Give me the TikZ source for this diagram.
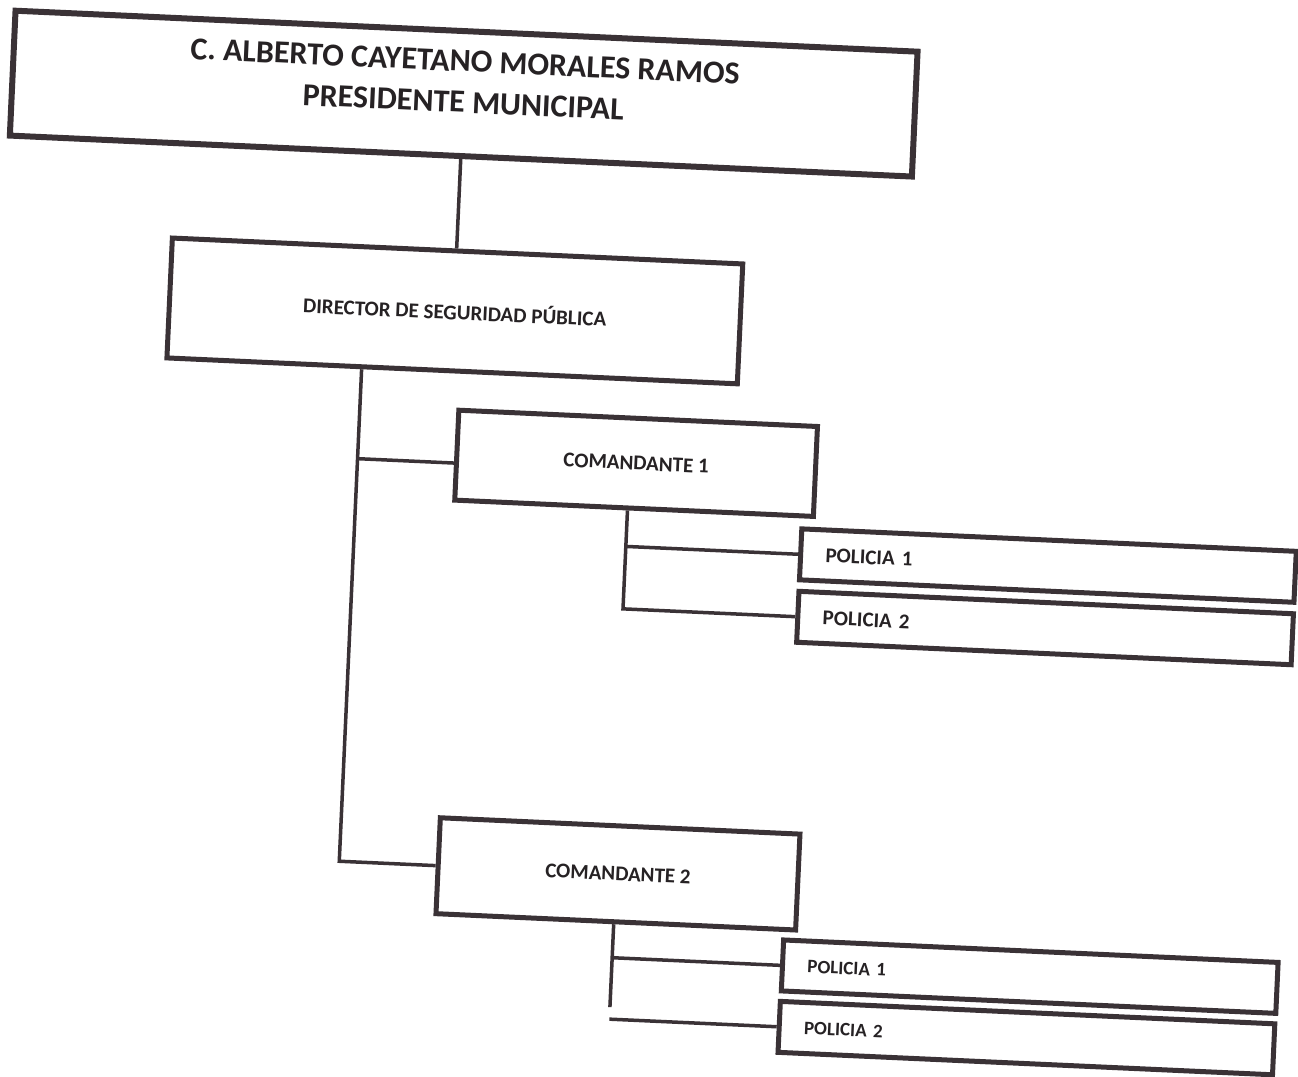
\documentclass[tikz,border=0pt]{standalone}
\usepackage{fontspec}
\setmainfont{Carlito}
\definecolor{ink}{RGB}{58,50,54}
\definecolor{txt}{RGB}{38,34,36}
\begin{document}
\begin{tikzpicture}[x=1pt,y=1pt,
  box/.style={draw=ink, line width=5pt, inner sep=0pt, text=txt},
  big/.style={box, line width=6pt, align=center, font=\bfseries\fontsize{32}{41}\selectfont},
  mid/.style={box, font=\bfseries\fontsize{21}{25}\selectfont},
  pol/.style={box, text width=445pt, inner xsep=25pt, minimum height=51pt, align=left, font=\bfseries\fontsize{21}{25}\selectfont},
  polsmall/.style={pol, font=\bfseries\fontsize{19}{23}\selectfont},
  conn/.style={draw=ink, line width=3.5pt}]
\useasboundingbox (0,0) rectangle (1298,-1076);
\fill[white] (0,0) rectangle (1298,-1076);
\begin{scope}[transform canvas={rotate=-2.6}]
\node[big, minimum width=903pt, minimum height=125pt, text depth=24pt] (top) at (467.5,-72.5) {C. ALBERTO CAYETANO MORALES RAMOS\\PRESIDENTE MUNICIPAL};
\node[mid, minimum width=571pt, minimum height=120pt] (dir) at (468.5,-290) {DIRECTOR DE SEGURIDAD PÚBLICA};
\node[mid, minimum width=359pt, minimum height=90pt] (c1) at (656.5,-434) {COMANDANTE 1};
\node[pol] (p1) at (1072.5,-517.5) {POLICIA 1};
\node[pol] (p2) at (1072.5,-580) {POLICIA 2};
\node[mid, minimum width=360pt, minimum height=96pt] (c2) at (657,-845) {COMANDANTE 2};
\node[polsmall] (p3) at (1073,-929) {POLICIA 1};
\node[polsmall] (p4) at (1072.5,-990.5) {POLICIA 2};
\coordinate (t1) at (378,0);
\coordinate (s1) at (650,0);
\coordinate (s2) at (655,0);
\draw[conn] (top.south) -- (top.south |- dir.north);
\draw[conn] (dir.south -| t1) |- (c2.west);
\draw[conn] ([yshift=-8pt]c1.west) -- ([yshift=-8pt]c1.west -| t1);
\draw[conn] (c1.south -| s1) |- (p2.west);
\draw[conn] (p1.west) -- (p1.west -| s1);
\draw[conn] (c2.south -| s2) -- ++(0,-83);
\draw[conn] (p3.west) -- (p3.west -| s2);
\draw[conn] (p4.west) -- (p4.west -| s2);
\end{scope}
\end{tikzpicture}
\end{document}
